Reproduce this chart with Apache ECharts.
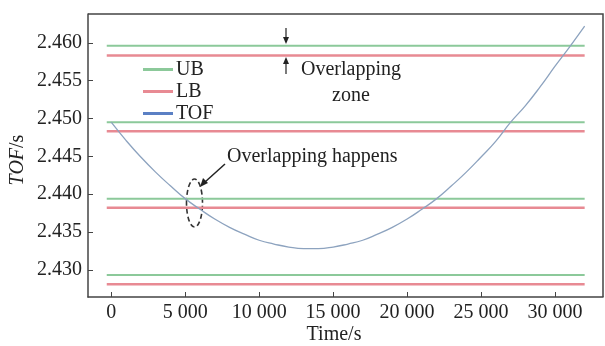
<!DOCTYPE html>
<html>
<head>
<meta charset="utf-8">
<script src="https://cdn.jsdelivr.net/npm/echarts@6/dist/echarts.min.js"></script>
<style>
  html, body { margin: 0; padding: 0; background: #fff; }
  #chart { width: 605px; height: 346px; }
</style>
</head>
<body>
<div id="chart"></div>
<script>
// time samples (s) and time of flight (s)
const times = [0, 1000, 2000, 3000, 4000, 5000, 6000, 7000, 8000, 9000, 10000, 11000, 12000, 13000, 14000, 15000,
  16000, 17000, 18000, 19000, 20000, 21000, 22000, 23000, 24000, 25000, 26000, 27000, 28000, 29000, 30000, 31000, 32000];
const tof = [2.4495, 2.4471, 2.4449, 2.4429, 2.4411, 2.4394, 2.4380, 2.4367, 2.4356, 2.4347, 2.4339, 2.4334, 2.4330,
  2.4328, 2.4328, 2.4330, 2.4334, 2.4339, 2.4347, 2.4356, 2.4367, 2.4380, 2.4394, 2.4411, 2.4429, 2.4449, 2.4470,
  2.4495, 2.4517, 2.4542, 2.4569, 2.4595, 2.4622];

// upper / lower bound levels (s), each drawn as a horizontal segment
const ubLevels = [2.4596, 2.4495, 2.4394, 2.4293];
const lbLevels = [2.4583, 2.4483, 2.4382, 2.4281];
const segStart = -300;
const segEnd = 32000;

const xTicks = [0, 5000, 10000, 15000, 20000, 25000, 30000];
const yTicks = [2.430, 2.435, 2.440, 2.445, 2.450, 2.455, 2.460];

function segments(levels) {
  const out = [];
  levels.forEach(v => {
    out.push([segStart, v], [segEnd, v], [segEnd, '-']);
  });
  return out;
}

const font = '"Liberation Serif", "Times New Roman", serif';
const chart = echarts.init(document.getElementById('chart'));

chart.setOption({
  animation: false,
  grid: { left: 88, right: 2, top: 14, bottom: 49 },
  legend: {
    orient: 'vertical',
    left: 143,
    top: 59,
    padding: 0,
    itemWidth: 30,
    itemHeight: 3,
    itemGap: 1,
    textStyle: { fontFamily: font, fontSize: 20, color: '#222', padding: [0, 0, 0, -2], lineHeight: 21 },
    data: [
      { name: 'UB', icon: 'rect', itemStyle: { color: '#8cc99a' } },
      { name: 'LB', icon: 'rect', itemStyle: { color: '#e88a93' } },
      { name: 'TOF', icon: 'rect', itemStyle: { color: '#5b80c4' } }
    ]
  },
  xAxis: {
    type: 'value',
    min: -1567,
    max: 33240,
    axisLine: { show: true, onZero: false, lineStyle: { color: '#444', width: 1.5 } },
    axisTick: { show: true, inside: true, length: 5, customValues: xTicks, lineStyle: { color: '#444' } },
    axisLabel: {
      customValues: xTicks,
      fontFamily: font, fontSize: 20, color: '#222', margin: 6,
      formatter: v => String(v).replace(/\B(?=(\d{3})+(?!\d))/g, ' ')
    },
    splitLine: { show: false }
  },
  yAxis: {
    type: 'value',
    min: 2.4264,
    max: 2.4638,
    axisLine: { show: true, onZero: false, lineStyle: { color: '#444', width: 1.5 } },
    axisTick: { show: true, inside: true, length: 5, customValues: yTicks, lineStyle: { color: '#444' } },
    axisLabel: {
      customValues: yTicks,
      fontFamily: font, fontSize: 20, color: '#222', margin: 6,
      formatter: v => v.toFixed(3)
    },
    splitLine: { show: false }
  },
  series: [
    {
      name: 'UB', type: 'line', symbol: 'none', silent: true,
      lineStyle: { color: '#8cc99a', width: 2 },
      itemStyle: { color: '#8cc99a' },
      data: segments(ubLevels)
    },
    {
      name: 'LB', type: 'line', symbol: 'none', silent: true,
      lineStyle: { color: '#e88a93', width: 2.5 },
      itemStyle: { color: '#e88a93' },
      data: segments(lbLevels)
    },
    {
      name: 'TOF', type: 'line', symbol: 'none', smooth: true, silent: true,
      lineStyle: { color: '#8da3bf', width: 1.3 },
      itemStyle: { color: '#5b80c4' },
      data: times.map((t, i) => [t, tof[i]])
    }
  ],
  graphic: [
    // plot frame (top and right)
    { type: 'polyline', silent: true, shape: { points: [[88, 14], [603, 14], [603, 297]] },
      style: { stroke: '#444', lineWidth: 1.5, fill: null } },
    // axis names
    { type: 'text', x: 18, y: 160, rotation: Math.PI / 2, silent: true,
      style: { text: '{i|TOF}{n|/s}', align: 'center', verticalAlign: 'middle',
        rich: { i: { fontFamily: font, fontSize: 20, fontStyle: 'italic', fill: '#222' },
                n: { fontFamily: font, fontSize: 20, fill: '#222' } } } },
    { type: 'text', x: 334, y: 335, silent: true,
      style: { text: 'Time/s', fontFamily: font, fontSize: 20, fill: '#222', align: 'center', verticalAlign: 'middle' } },
    // overlapping zone arrows + text
    { type: 'line', silent: true, shape: { x1: 286, y1: 28, x2: 286, y2: 42 }, style: { stroke: '#222', lineWidth: 1.2 } },
    { type: 'polygon', silent: true, shape: { points: [[283, 37], [289, 37], [286, 44]] }, style: { fill: '#222' } },
    { type: 'line', silent: true, shape: { x1: 286, y1: 60, x2: 286, y2: 74 }, style: { stroke: '#222', lineWidth: 1.2 } },
    { type: 'polygon', silent: true, shape: { points: [[283, 64], [289, 64], [286, 57]] }, style: { fill: '#222' } },
    { type: 'text', x: 351, y: 83, silent: true,
      style: { text: 'Overlapping\nzone', fontFamily: font, fontSize: 20, fill: '#222', align: 'center',
        verticalAlign: 'middle', lineHeight: 26 } },
    // overlapping happens
    { type: 'text', x: 227, y: 157, silent: true,
      style: { text: 'Overlapping happens', fontFamily: font, fontSize: 20, fill: '#222', align: 'left', verticalAlign: 'middle' } },
    { type: 'line', silent: true, shape: { x1: 225, y1: 164, x2: 205, y2: 182 }, style: { stroke: '#222', lineWidth: 1.5 } },
    { type: 'polygon', silent: true, shape: { points: [[200, 187], [203, 178], [208, 183]] }, style: { fill: '#222' } },
    { type: 'ellipse', silent: true, shape: { cx: 194.5, cy: 203, rx: 8, ry: 24 },
      style: { stroke: '#333', lineWidth: 1.6, fill: null, lineDash: [5, 3] } }
  ]
});
</script>
</body>
</html>
